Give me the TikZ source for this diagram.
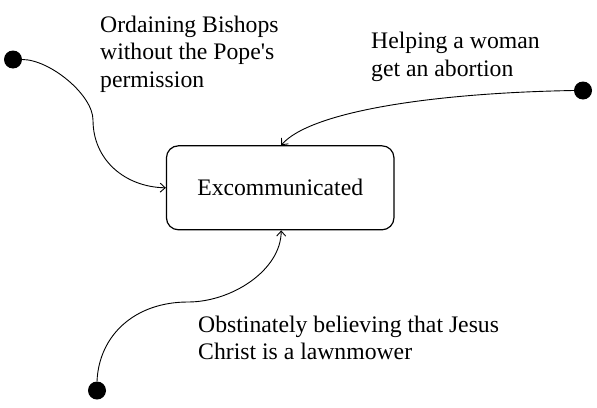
\documentclass[tikz,border=0pt]{standalone}
\usepackage{fontspec}
\setmainfont{Liberation Serif}
\usetikzlibrary{arrows.meta}
\tikzset{
  lbl/.style={anchor=base west, inner sep=0pt, align=left, font=\fontsize{23.7}{27.8}\selectfont},
  state/.style={draw, line width=1.2pt, rounded corners=12pt, minimum width=227.5pt, minimum height=84pt, inner sep=0pt, font=\fontsize{23.7}{27.8}\selectfont},
  startdot/.style={circle, fill=black, minimum size=18pt, inner sep=0pt},
  conn/.style={line width=0.9pt, -{Straight Barb[length=5pt,width=9pt]}}
}
\begin{document}
\begin{tikzpicture}[x=1pt,y=-1pt]
\useasboundingbox (0,0) rectangle (597,407);
\node[state] (box) at (280.2,187.8) {Excommunicated};
\node[startdot] (d1) at (13,59.5) {};
\node[startdot] (d2) at (583,90.5) {};
\node[startdot] (d3) at (97,390.5) {};
\node[lbl] (t1) at (100,87.6) {Ordaining Bishops\\without the Pope\textquotesingle s\\permission};
\node[lbl] (t2) at (371,76.3) {Helping a woman\\get an abortion};
\node[lbl] (t3) at (198,359.8) {Obstinately believing that Jesus\\Christ is a lawnmower};
\coordinate (m1) at (93,120);
\coordinate (m3) at (188,302);
\draw[conn] (d1.east) .. controls (50,59.5) and (93,95) .. (m1)
  .. controls (93,160) and (125,187) .. (box.west);
\draw[conn] (d2.west) .. controls (430,93) and (310,112) .. ([xshift=1pt]box.north);
\draw[conn] (d3.north) .. controls (99,335) and (135,302) .. (m3)
  .. controls (232,302) and (281,270) .. ([xshift=1pt]box.south);
\end{tikzpicture}
\end{document}
